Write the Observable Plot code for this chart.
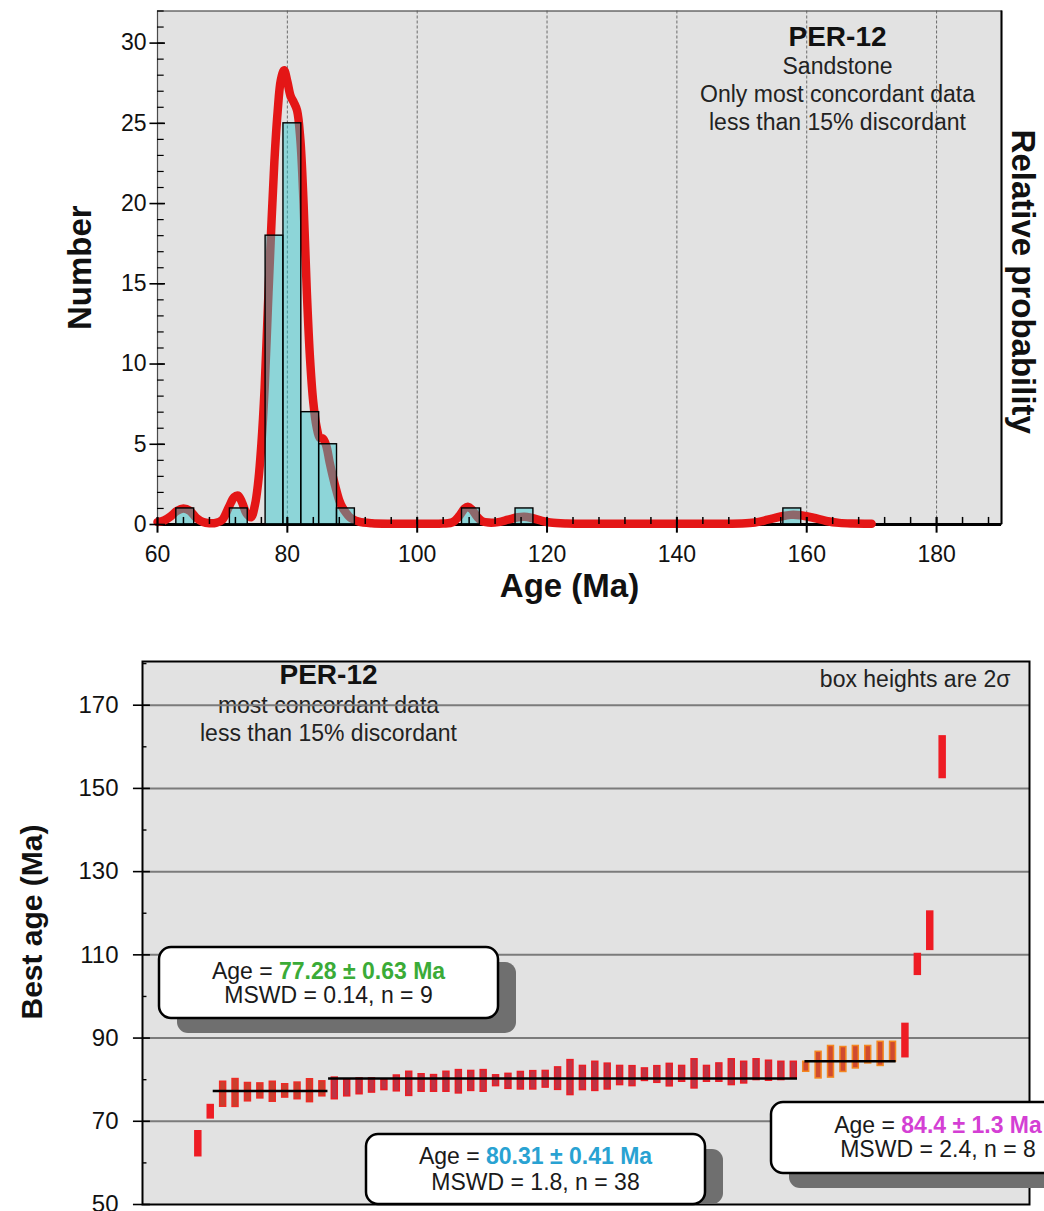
<!DOCTYPE html>
<html><head><meta charset="utf-8">
<script src="https://cdn.jsdelivr.net/npm/d3@7"></script>
<script src="https://cdn.jsdelivr.net/npm/@observablehq/plot@0.6"></script>
<style>
body{margin:0;background:#fff;font-family:"Liberation Sans",Arial,sans-serif;}
#wrap{position:relative;width:1044px;height:1211px;overflow:hidden;background:#fff;}
#top{position:absolute;left:0;top:0;}
#bottom{position:absolute;left:0;top:600px;}
</style></head><body>
<div id="wrap"><div id="top"></div><div id="bottom"></div></div>
<script>
// ---------- DATA ----------
// Histogram (top panel)
const binStart = [62.9, 71.15, 76.65, 79.4, 82.15, 84.9, 87.65, 106.9, 115.15, 156.4];
const binEnd   = [65.65, 73.9, 79.4, 82.15, 84.9, 87.65, 90.4, 109.65, 117.9, 159.15];
const binCount = [1, 1, 18, 25, 7, 5, 1, 1, 1, 1];
// Relative probability curve (in "Number" units)
const curveAge = [60,61,62,63,64,65,66,67,68,69,70,71,71.8,72.4,73,73.7,74.4,75,75.5,76,76.5,77,77.5,78,78.5,79,79.5,80,80.5,81,81.5,82,82.5,83,83.5,84,84.5,85,85.5,86,86.5,87,87.5,88,88.5,89,89.5,90,91,93,96,100,104,105.5,106.5,107.3,107.8,108.4,109.2,110,111,112.5,114,115.5,116.5,117.5,119,120.5,123,130,140,150,152,154,156,157.5,159,161,163,165,167,170];
const curveProb = [0.15,0.25,0.5,0.85,1.0,0.85,0.4,0.15,0.08,0.1,0.3,1.1,1.7,1.8,1.4,0.7,0.45,1.2,2.6,5.0,8.5,13.5,18.3,22.6,25.7,27.7,28.3,27.6,26.7,26.3,25.8,24.0,20.0,14.5,10.3,7.6,6.1,5.4,5.35,4.9,3.9,3.0,2.2,1.5,1.05,0.75,0.5,0.35,0.18,0.08,0.05,0.05,0.06,0.15,0.55,1.0,1.1,0.95,0.5,0.2,0.12,0.15,0.3,0.45,0.48,0.42,0.25,0.12,0.06,0.05,0.05,0.06,0.12,0.3,0.5,0.6,0.58,0.42,0.22,0.1,0.06,0.05];
const xTickLabels = [60, 80, 100, 120, 140, 160, 180];
const yTickLabels = [0, 5, 10, 15, 20, 25, 30];

// Grain ages (bottom panel), 2-sigma half heights, and group
const grainAge = [64.6, 72.3,
  76.5, 76.8, 77.0, 77.3, 77.1, 77.3, 77.3, 77.35, 77.8,
  77.9, 78.0, 78.4, 78.6, 78.7, 79.1, 79.0, 79.2, 79.1, 79.5, 79.5, 79.7, 79.7, 79.75, 79.6, 79.75, 79.85, 80.1, 80.25, 80.5, 80.4, 80.8, 80.75, 81.0, 80.85, 81.2, 81.25, 81.1, 81.4, 81.4, 81.4, 81.7, 81.8, 81.7, 82.4, 82.15, 82.1, 82.3,
  83.1, 83.5, 84.3, 84.85, 85.4, 86.0, 86.2, 86.7,
  89.4, 107.7, 115.8, 157.5];
const grainErr = [3.0, 1.6,
  3.0, 3.35, 2.2, 1.8, 2.4, 1.6, 2.0, 2.75, 1.8,
  2.6, 2.0, 1.9, 1.7, 1.2, 1.9, 2.9, 2.1, 2.0, 2.4, 2.8, 2.4, 2.6, 1.3, 1.8, 2.1, 2.2, 2.0, 2.7, 4.2, 2.9, 3.5, 3.1, 2.3, 2.4, 1.5, 2.0, 2.7, 1.9, 3.5, 1.9, 2.2, 3.1, 2.6, 2.5, 2.4, 2.2, 2.0,
  1.2, 3.2, 3.8, 3.0, 2.7, 2.1, 2.9, 2.4,
  4.0, 2.5, 4.6, 5.0];
const grainGroup = [].concat(
  ["r","r"], Array(9).fill("g"), Array(38).fill("b"), Array(8).fill("m"), ["r","r","r","r"]);
// Weighted means
const meanAge = [77.28, 80.31, 84.4];
const meanFrom = [2.2, 11.5, 49.9];
const meanTo = [11.45, 49.3, 57.25];
const meanText = ["77.28 ± 0.63 Ma", "80.31 ± 0.41 Ma", "84.4 ± 1.3 Ma"];
const mswdText = ["MSWD = 0.14, n = 9", "MSWD = 1.8, n = 38", "MSWD = 2.4, n = 8"];
const bestTickLabels = [50, 70, 90, 110, 130, 150, 170];

// ---------- STYLE ----------
const F = "Liberation Sans, Arial, Helvetica, sans-serif";
const gridX = [80, 100, 120, 140, 160, 180];
const xMinor = d3.range(60, 189, 4);
const yMinor = d3.range(0, 33, 1);

const bins = binStart.map((s, i) => ({s, e: binEnd[i], n: binCount[i]}));
const curve = curveAge.map((a, i) => ({a, p: curveProb[i]}));
const T = (txt, o) => Plot.text([txt], {text: d => d, fill: "#111", textAnchor: "middle", lineAnchor: "middle", ...o});

const topPlot = Plot.plot({
  width: 1044, height: 600,
  marginLeft: 157, marginRight: 43, marginTop: 10.5, marginBottom: 76,
  style: {fontFamily: F, background: "transparent", overflow: "visible"},
  x: {domain: [60, 190], axis: null},
  y: {domain: [0, 32], axis: null},
  marks: [
    Plot.frame({fill: "#e2e2e2", stroke: "#4a4a4a", strokeWidth: 1.2}),
    Plot.ruleX(gridX, {stroke: "#5c5c5c", strokeWidth: 0.9, strokeDasharray: "3,2"}),
    Plot.ruleY([0], {stroke: "#000", strokeWidth: 3}),
    Plot.ruleX([190], {stroke: "#000", strokeWidth: 2}),
    T("PER-12", {frameAnchor: "top-left", dx: 680, dy: 26, fontSize: 28, fontWeight: "bold"}),
    T("Sandstone", {frameAnchor: "top-left", dx: 680, dy: 55.5, fontSize: 23, fill: "#222"}),
    T("Only most concordant data", {frameAnchor: "top-left", dx: 680, dy: 83.5, fontSize: 23, fill: "#222"}),
    T("less than 15% discordant", {frameAnchor: "top-left", dx: 680, dy: 111.5, fontSize: 23, fill: "#222"}),
    Plot.line(curve, {x: "a", y: "p", stroke: "#e41616", strokeWidth: 8.5, curve: "catmull-rom", strokeLinejoin: "round"}),
    Plot.rect(bins, {x1: "s", x2: "e", y1: () => 0, y2: "n", fill: "#2cc6cc", fillOpacity: 0.47, stroke: "#000", strokeWidth: 1.4}),
    Plot.ruleX(xMinor, {y1: () => 0, y2: () => 0.44, stroke: "#000", strokeWidth: 1.5}),
    Plot.ruleX(xTickLabels, {y1: () => -0.54, y2: () => 0.44, stroke: "#000", strokeWidth: 2}),
    Plot.ruleY(yMinor, {x1: () => 60, x2: () => 61.03, stroke: "#000", strokeWidth: 1.2}),
    Plot.ruleY(yTickLabels, {x1: () => 58.84, x2: () => 61.23, stroke: "#000", strokeWidth: 1.6}),
    Plot.text(yTickLabels, {x: () => 60, y: d => d, dx: -11, textAnchor: "end", fontSize: 23, fill: "#111", text: d => String(d)}),
    Plot.text(xTickLabels, {x: d => d, y: () => 0, dy: 30, fontSize: 23, fill: "#111", text: d => String(d)}),
    T("Number", {frameAnchor: "left", dx: -77, rotate: -90, fontSize: 33, fontWeight: "bold"}),
    T("Age (Ma)", {frameAnchor: "bottom", dx: -10, dy: 62, fontSize: 33, fontWeight: "bold"}),
    T("Relative probability", {frameAnchor: "right", dx: 21.5, dy: 14, rotate: 90, fontSize: 33, fontWeight: "bold"})
  ]
});
document.getElementById("top").appendChild(topPlot);

// ---------- BOTTOM ----------
const grains = grainAge.map((a, i) => ({i: i + 1, a, e: grainErr[i], g: grainGroup[i]}));
const means = meanAge.map((a, k) => ({a, from: meanFrom[k], to: meanTo[k]}));
const gridY = [70, 90, 110, 130, 150, 170];
const minorY = [60, 80, 100, 120, 140, 160, 180];
const xL = -3.5;
const halfW = 0.24;
const groupStyle = {
  r: {fill: "#ee1c24", stroke: "#ee1c24"},
  g: {fill: "#c8402e", stroke: "#ee2a24"},
  b: {fill: "#bd3446", stroke: "#ec1c24"},
  m: {fill: "#cf4a30", stroke: "#f5861f"}
};
const barMarks = Object.keys(groupStyle).map(k =>
  Plot.rect(grains.filter(d => d.g === k), {
    x1: d => d.i - halfW, x2: d => d.i + halfW, y1: d => d.a - d.e, y2: d => d.a + d.e,
    fill: groupStyle[k].fill, stroke: groupStyle[k].stroke, strokeWidth: 1.5
  }));

const bottomPlot = Plot.plot({
  width: 1044, height: 611,
  marginLeft: 142, marginRight: 15, marginTop: 61, marginBottom: 7,
  style: {fontFamily: F, background: "transparent", overflow: "visible"},
  x: {domain: [xL, 68], axis: null},
  y: {domain: [50, 180.5], axis: null},
  marks: [
    Plot.frame({fill: "#e2e2e2", stroke: null}),
    T("PER-12", {frameAnchor: "top-left", dx: 186, dy: 13.5, fontSize: 28, fontWeight: "bold"}),
    T("most concordant data", {frameAnchor: "top-left", dx: 186, dy: 44.5, fontSize: 23, fill: "#222"}),
    T("less than 15% discordant", {frameAnchor: "top-left", dx: 186, dy: 71.7, fontSize: 23, fill: "#222"}),
    T("box heights are 2σ", {frameAnchor: "top-right", textAnchor: "end", dx: -19, dy: 18, fontSize: 23, fill: "#222"}),
    Plot.ruleY(gridY, {stroke: "#7b7b7b", strokeWidth: 2}),
    ...barMarks,
    Plot.ruleY(means, {y: "a", x1: "from", x2: "to", stroke: "#000", strokeWidth: 2.5}),
    Plot.frame({stroke: "#000", strokeWidth: 2}),
    Plot.ruleY(bestTickLabels, {x1: () => xL - 0.73, x2: () => xL + 0.64, stroke: "#000", strokeWidth: 1.6}),
    Plot.ruleY(minorY, {x1: () => xL, x2: () => xL + 0.36, stroke: "#000", strokeWidth: 1.4}),
    Plot.text(bestTickLabels, {x: () => xL, y: d => d, dx: -24, textAnchor: "end", fontSize: 24, fill: "#111", text: d => String(d)}),
    T("Best age (Ma)", {frameAnchor: "left", dx: -110, dy: -11, rotate: -90, fontSize: 30, fontWeight: "bold"})
  ]
});
document.getElementById("bottom").appendChild(bottomPlot);

// annotation boxes
const boxColors = ["#3bab37", "#29a2d2", "#d43fd4"];
const boxes = [
  {x: 159, y: 347, w: 339, h: 71, cx: 328.5, t1: 371, t2: 395},
  {x: 366, y: 534, w: 339, h: 70, cx: 535.5, t1: 556, t2: 582},
  {x: 771, y: 502, w: 334, h: 71, cx: 938, t1: 525, t2: 549}
];
const svgB = d3.select(bottomPlot);
const frameBottom = 611 - 7;
boxes.forEach((b, k) => {
  const g = svgB.append("g");
  const sy = b.y + 15;
  g.append("rect").attr("x", b.x + 18).attr("y", sy).attr("width", b.w)
    .attr("height", Math.max(0, Math.min(b.h, frameBottom - sy))).attr("rx", 11).attr("fill", "#6f6f6f");
  g.append("rect").attr("x", b.x).attr("y", b.y).attr("width", b.w).attr("height", b.h)
    .attr("rx", 12).attr("fill", "#fff").attr("stroke", "#000").attr("stroke-width", 2.5);
  const t1 = g.append("text").attr("x", b.cx).attr("y", b.t1).attr("text-anchor", "middle")
    .attr("dominant-baseline", "central").style("font-family", F).style("font-size", "23px");
  t1.append("tspan").attr("fill", "#1a1a1a").text("Age = ");
  t1.append("tspan").attr("fill", boxColors[k]).attr("font-weight", "bold").text(meanText[k]);
  g.append("text").attr("x", b.cx).attr("y", b.t2).attr("text-anchor", "middle")
    .attr("dominant-baseline", "central").style("font-family", F).style("font-size", "23px")
    .attr("fill", "#1a1a1a").text(mswdText[k]);
});
</script>
</body></html>
